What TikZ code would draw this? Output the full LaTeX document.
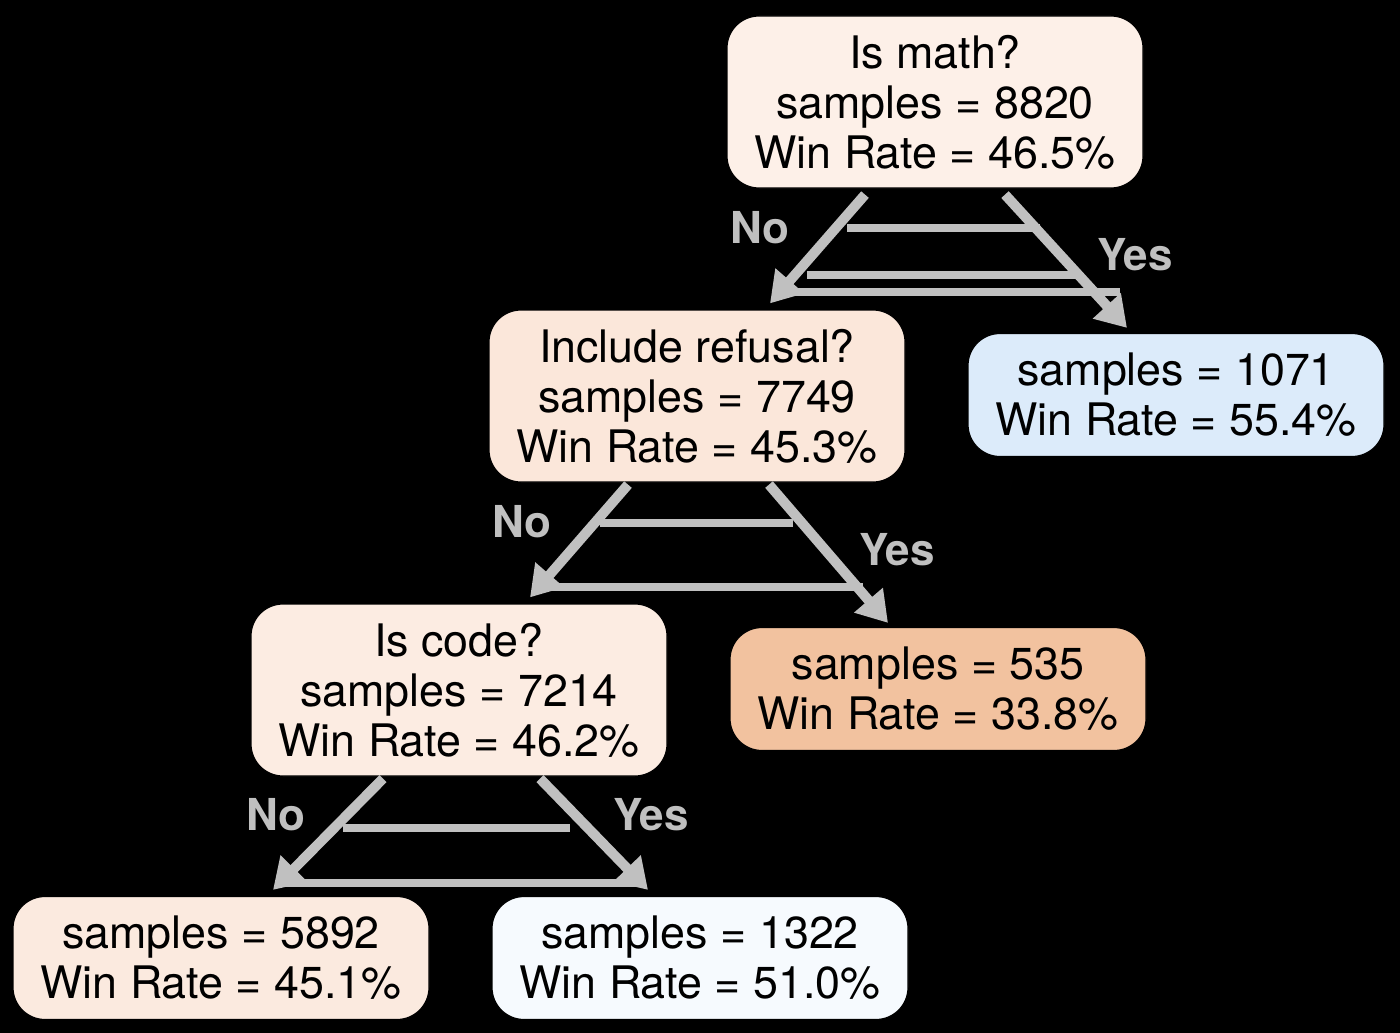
\documentclass[tikz,border=0pt]{standalone}
\usepackage{fontspec}
\setmainfont{TeX Gyre Heros}
\usetikzlibrary{arrows.meta,calc}
\definecolor{cRoot}{HTML}{FDF0E8}
\definecolor{cRef}{HTML}{FBE7DA}
\definecolor{cBlue}{HTML}{DCEBFA}
\definecolor{cCode}{HTML}{FCECE2}
\definecolor{cOrange}{HTML}{F2C29F}
\definecolor{cLeafA}{HTML}{FBEADF}
\definecolor{cLeafB}{HTML}{F6FAFE}
\definecolor{cEdge}{HTML}{C0C0C0}
\tikzset{
  treebox/.style={draw=black, line width=1.2pt, rounded corners=32pt, align=center,
    inner sep=0pt, minimum width=416pt, text=black,
    font=\fontsize{44.8}{50}\selectfont},
  inner3/.style={treebox, minimum height=172pt},
  leafbox/.style={treebox, minimum height=123pt},
  treeedge/.style={draw=cEdge, line width=10pt, -{Triangle[length=30pt,width=36pt]}},
  edgelabel/.style={text=cEdge, font=\fontsize{44}{48}\selectfont\bfseries},
  ghostline/.style={draw=cEdge, line width=8pt}
}
\begin{document}
\begin{tikzpicture}[x=1pt,y=-1pt]
\fill[black] (0,0) rectangle (1400,1033);
\useasboundingbox (0,0) rectangle (1400,1033);

\node[inner3, fill=cRoot] (root) at (935,102) {Is math?\\samples = 8820\\Win Rate = 46.5\%};
\node[inner3, fill=cRef] (ref) at (697,396) {Include refusal?\\samples = 7749\\Win Rate = 45.3\%};
\node[leafbox, fill=cBlue] (lmath) at (1176,395) {samples = 1071\\Win Rate = 55.4\%};
\node[inner3, fill=cCode] (code) at (459,690) {Is code?\\samples = 7214\\Win Rate = 46.2\%};
\node[leafbox, fill=cOrange] (lref) at (938,689) {samples = 535\\Win Rate = 33.8\%};
\node[leafbox, fill=cLeafA] (lno) at (221,958) {samples = 5892\\Win Rate = 45.1\%};
\node[leafbox, fill=cLeafB] (lyes) at (700,958) {samples = 1322\\Win Rate = 51.0\%};

% faint horizontal strokes between the edges
\draw[ghostline] (847,228) -- (1040,228);
\draw[ghostline] (807,275) -- (1080,275);
\draw[ghostline] (790,292) -- (1120,292);
\draw[ghostline] (600,523) -- (793,523);
\draw[ghostline] (543,587) -- (863,587);
\draw[ghostline] (343,828) -- (570,828);
\draw[ghostline] (280,883) -- (640,883);

% edges
\draw[treeedge] ($(root.south)+(-70,6)$) -- ($(ref.north)+(73,-6)$);
\draw[treeedge] ($(root.south)+(70,6)$) -- ($(lmath.north)+(-49,-5)$);
\draw[treeedge] ($(ref.south)+(-69,2)$) -- ($(code.north)+(71,-6)$);
\draw[treeedge] ($(ref.south)+(72,2)$) -- ($(lref.north)+(-50,-4)$);
\draw[treeedge] ($(code.south)+(-76,2)$) -- ($(lno.north)+(52,-6)$);
\draw[treeedge] ($(code.south)+(81,2)$) -- ($(lyes.north)+(-52,-6)$);

% edge labels
\node[edgelabel] (n1) at (760,228) {No};
\node[edgelabel] (y1) at (1135,255) {Yes};
\node[edgelabel] (n2) at (522,522) {No};
\node[edgelabel] (y2) at (897,550) {Yes};
\node[edgelabel] (n3) at (276,815) {No};
\node[edgelabel] (y3) at (651,815) {Yes};
\end{tikzpicture}
\end{document}
